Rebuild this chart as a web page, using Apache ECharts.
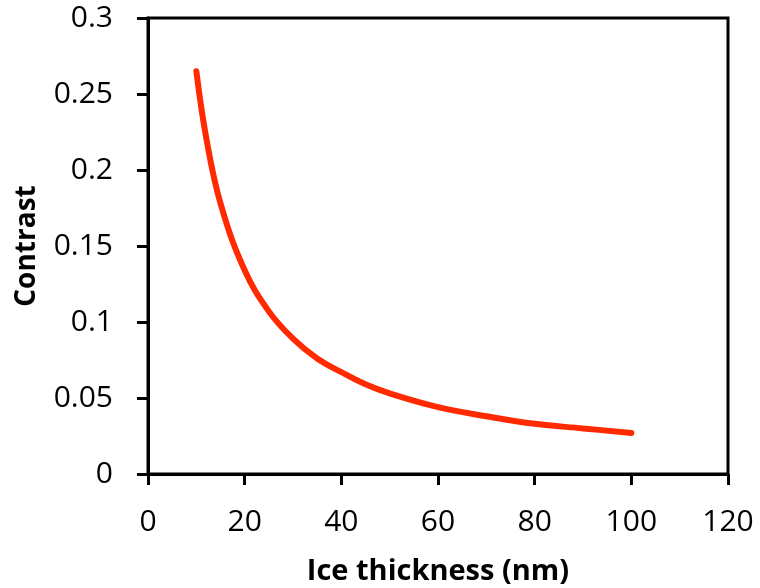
<!DOCTYPE html>
<html>
<head>
<meta charset="utf-8">
<script src="https://cdn.jsdelivr.net/npm/echarts@6/dist/echarts.min.js"></script>
<style>
  html, body { margin: 0; padding: 0; background: #fff; }
  #chart { width: 760px; height: 588px; }
</style>
</head>
<body>
<div id="chart"></div>
<script>
// ice thickness (nm) and contrast
var thickness = [10, 12, 15, 20, 25, 30, 35, 40, 45, 50, 60, 70, 80, 90, 100];
var contrast = [0.265, 0.222, 0.178, 0.134, 0.107, 0.089, 0.076, 0.067, 0.059, 0.053, 0.044, 0.038, 0.033, 0.030, 0.027];

var xTitle = 'Ice thickness (nm)';
var yTitle = 'Contrast';

var font = '"Open Sans", "Liberation Sans", sans-serif';

var chart = echarts.init(document.getElementById('chart'));
chart.setOption({
    animation: false,
    grid: {
        left: 148, right: 32, top: 18, bottom: 114,
        outerBoundsMode: 'none', containLabel: false,
        show: true, borderColor: '#000', borderWidth: 3
    },
    xAxis: {
        type: 'value', min: 0, max: 120, interval: 20,
        name: xTitle, nameLocation: 'middle', nameGap: 83,
        nameTextStyle: { fontFamily: font, fontSize: 29, fontWeight: 'bold', color: '#000' },
        axisLine: { lineStyle: { color: '#000', width: 3 } },
        axisTick: { inside: false, length: 11, lineStyle: { color: '#000', width: 3 } },
        axisLabel: { margin: 33, fontFamily: font, fontSize: 30, color: '#000' },
        splitLine: { show: false }
    },
    yAxis: {
        type: 'value', min: 0, max: 0.3, interval: 0.05,
        name: yTitle, nameLocation: 'middle', nameGap: 107, nameRotate: 90,
        nameTextStyle: { fontFamily: font, fontSize: 28, fontWeight: 'bold', color: '#000' },
        axisLine: { lineStyle: { color: '#000', width: 3 } },
        axisTick: { inside: false, length: 11, lineStyle: { color: '#000', width: 3 } },
        axisLabel: { margin: 35, fontFamily: font, fontSize: 30, color: '#000' },
        splitLine: { show: false }
    },
    series: [{
        type: 'line',
        data: thickness.map(function (t, i) { return [t, contrast[i]]; }),
        smooth: 0.4,
        showSymbol: false,
        lineStyle: { color: '#ff2a00', width: 6, cap: 'round' }
    }]
});
</script>
</body>
</html>
